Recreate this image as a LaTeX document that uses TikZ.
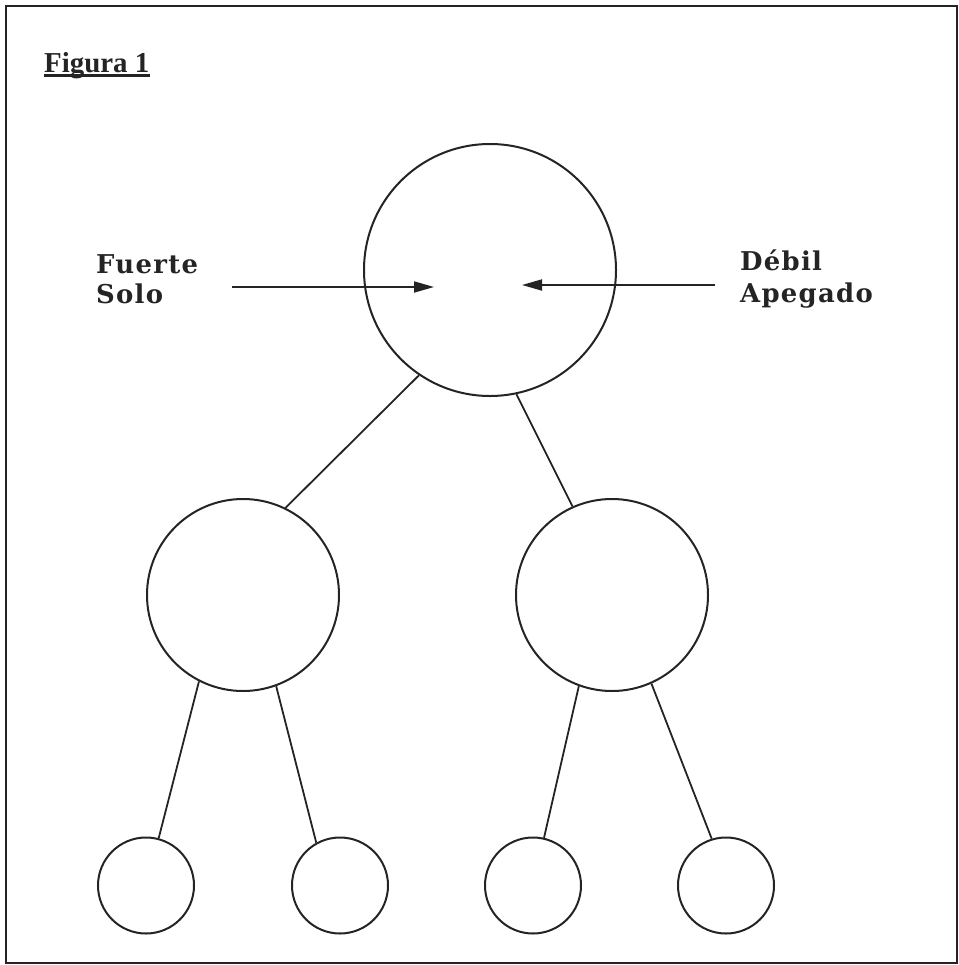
\documentclass[tikz,border=0pt]{standalone}
\usepackage{fontspec}
\setmainfont{Liberation Serif}
\newfontfamily\labelfont{DejaVu Serif}[LetterSpace=5]
\usetikzlibrary{arrows.meta}
\definecolor{ink}{gray}{0.14}
\begin{document}
\begin{tikzpicture}[x=1bp,y=-1bp,
  bubble/.style={circle,draw=ink,line width=2bp,inner sep=0pt},
  big/.style={bubble,minimum size=252bp},
  mid/.style={bubble,minimum size=192bp},
  leaf/.style={bubble,minimum size=96bp},
  link/.style={draw=ink,line width=1.8bp},
  push/.style={draw=ink,line width=1.8bp,-{Triangle[length=20bp,width=11bp]}},
  lbl/.style={inner sep=0pt,anchor=base west,text=ink,
    font=\labelfont\bfseries\fontsize{26}{30}\selectfont},
  ttl/.style={inner sep=0pt,anchor=base west,text=ink,
    font=\bfseries\fontsize{29}{34}\selectfont}
]
\useasboundingbox (0,0) rectangle (959,965);
% outer frame
\draw[ink,line width=2.8bp] (6,6) rectangle (957,963);

% title
\node[ttl] (title) at (44,72) {Figura 1};
\draw[ink,line width=3bp] ([yshift=-3.5bp]title.base west) -- ([yshift=-3.5bp]title.base east);

% tree
\node[big]  (top) at (490,270) {};
\node[mid]  (ml)  at (243,595) {};
\node[mid]  (mr)  at (612,595) {};
\node[leaf] (l1)  at (146,885.5) {};
\node[leaf] (l2)  at (340,885.5) {};
\node[leaf] (l3)  at (533,885.5) {};
\node[leaf] (l4)  at (726,885.5) {};

\draw[link] (top.236.8) -- (ml.64.8);
\draw[link] (top.282.4) -- (mr.114);
\draw[link] (ml.243.7) -- (l1.75.2);
\draw[link] (ml.290.6) -- (l2.119.5);
\draw[link] (mr.250) -- (l3.77.6);
\draw[link] (mr.294.4) -- (l4.107.1);

% side labels
\node[lbl] (fuerte)  at (96,273)  {Fuerte};
\node[lbl] (solo)    at (96,303)  {Solo};
\node[lbl] (debil)   at (740,270) {Débil};
\node[lbl] (apegado) at (740,302) {Apegado};

% arrows pointing into the top circle
\coordinate (fs) at (232,287);
\coordinate (fe) at (434,287);
\coordinate (ds) at (715,285);
\coordinate (de) at (522,285);
\draw[push] (fs) -- (fe);
\draw[push] (ds) -- (de);
\end{tikzpicture}
\end{document}
